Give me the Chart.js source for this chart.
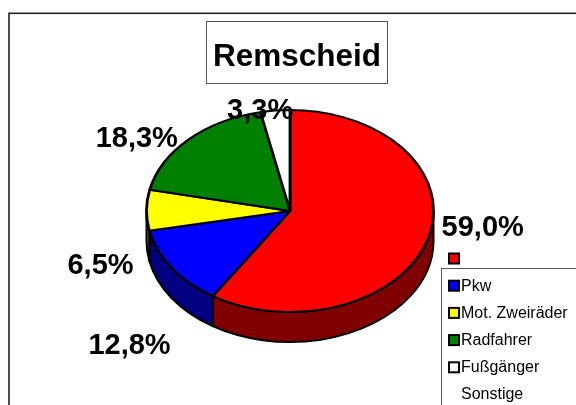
<!DOCTYPE html>
<html>
<head>
<meta charset="utf-8">
<style>
html,body{margin:0;padding:0;background:#fff;overflow:hidden}
#wrap{position:absolute;left:0;top:0;width:576px;height:405px}
</style>
<script src="https://cdn.jsdelivr.net/npm/chart.js@4"></script>
</head>
<body>
<div id="wrap"><canvas id="c" width="576" height="405"></canvas></div>
<script>
const chartTitle = 'Remscheid';
const categories = ['', 'Pkw', 'Mot. Zweiräder', 'Radfahrer', 'Fußgänger', 'Sonstige'];
const shares = [59.0, 12.8, 6.5, 18.3, 3.3, 0];
const sliceColours = ['#ff0000', '#0000ff', '#ffff00', '#008000', '#ffffff', '#ffffff'];
const sideColours = ['#800000', '#000080', '#808000', '#004000', '#808080', '#808080'];
const shareText = ['59,0%', '12,8%', '6,5%', '18,3%', '3,3%'];

const squash = 0.704, depth = 30;
const sans = '"Liberation Sans", Arial, sans-serif';
// label centres, as offset from each slice's rim midpoint
const labelShift = [[55, -11], [-42, 78], [-46, 56], [-52, 0], [-15, 0]];

const pie3d = {
  id: 'pie3d',
  beforeDraw(chart) {
    const c = chart.ctx;
    c.save();
    c.fillStyle = '#fff';
    c.fillRect(0, 0, chart.width, chart.height);
    c.strokeStyle = '#222';
    c.lineWidth = 1.6;
    c.strokeRect(9, 13.3, 580, 420);
    c.restore();
  },
  beforeDatasetsDraw(chart) {
    const c = chart.ctx, arcs = chart.getDatasetMeta(0).data;
    c.save();
    c.lineWidth = 2;
    c.strokeStyle = '#000';
    c.lineJoin = 'round';
    arcs.forEach((arc, i) => {
      const p = arc.getProps(['x', 'y', 'startAngle', 'endAngle', 'outerRadius'], true);
      const a = Math.max(p.startAngle, 0), b = Math.min(p.endAngle, Math.PI);
      if (b <= a) return;
      const ry = p.outerRadius * squash;
      c.beginPath();
      c.ellipse(p.x, p.y, p.outerRadius, ry, 0, a, b);
      c.ellipse(p.x, p.y + depth, p.outerRadius, ry, 0, b, a, true);
      c.closePath();
      c.fillStyle = sideColours[i];
      c.fill();
      c.stroke();
    });
    c.restore();
    const o = arcs[0].getProps(['x', 'y'], true);
    c.save();
    c.translate(o.x, o.y);
    c.scale(1, squash);
    c.translate(-o.x, -o.y);
  },
  afterDatasetsDraw(chart) {
    const c = chart.ctx, arcs = chart.getDatasetMeta(0).data;
    c.restore();
    c.save();
    // data labels
    c.fillStyle = '#000';
    c.font = 'bold 29px ' + sans;
    c.textAlign = 'center';
    c.textBaseline = 'middle';
    shareText.forEach((t, i) => {
      const p = arcs[i].getProps(['x', 'y', 'startAngle', 'endAngle', 'outerRadius'], true);
      const m = (p.startAngle + p.endAngle) / 2;
      c.fillText(t,
        p.x + p.outerRadius * Math.cos(m) + labelShift[i][0],
        p.y + p.outerRadius * squash * Math.sin(m) + labelShift[i][1]);
    });
    // title box
    c.fillStyle = '#fff';
    c.fillRect(206.5, 21.5, 181, 62);
    c.strokeStyle = '#555';
    c.lineWidth = 1;
    c.strokeRect(206.5, 21.5, 181, 62);
    c.fillStyle = '#000';
    c.font = 'bold 31.5px ' + sans;
    c.fillText(chartTitle, 297, 57);
    // legend
    c.strokeStyle = '#555';
    c.fillStyle = '#fff';
    c.fillRect(441.5, 268.5, 140, 150);
    c.strokeRect(441.5, 268.5, 140, 150);
    c.font = '16px ' + sans;
    c.textAlign = 'left';
    categories.forEach((name, i) => {
      const y = 258.5 + i * 27.2;
      if (i < 5) {
        c.fillStyle = sliceColours[i];
        c.fillRect(449, y - 5, 10, 10);
        c.strokeStyle = '#000';
        c.lineWidth = 2;
        c.strokeRect(449, y - 5, 10, 10);
      }
      c.fillStyle = '#000';
      c.fillText(name, 461, y + 0.5);
    });
    c.restore();
  }
};

new Chart(document.getElementById('c'), {
  type: 'pie',
  data: {
    labels: categories,
    datasets: [{
      data: shares,
      backgroundColor: sliceColours,
      borderColor: '#000',
      borderWidth: 2.8
    }]
  },
  options: {
    responsive: false,
    animation: false,
    layout: { padding: { left: 145.1, right: 141.1, top: 66.1, bottom: 49.1 } },
    plugins: { legend: { display: false }, title: { display: false }, tooltip: { enabled: false } }
  },
  plugins: [pie3d]
});
</script>
</body>
</html>
